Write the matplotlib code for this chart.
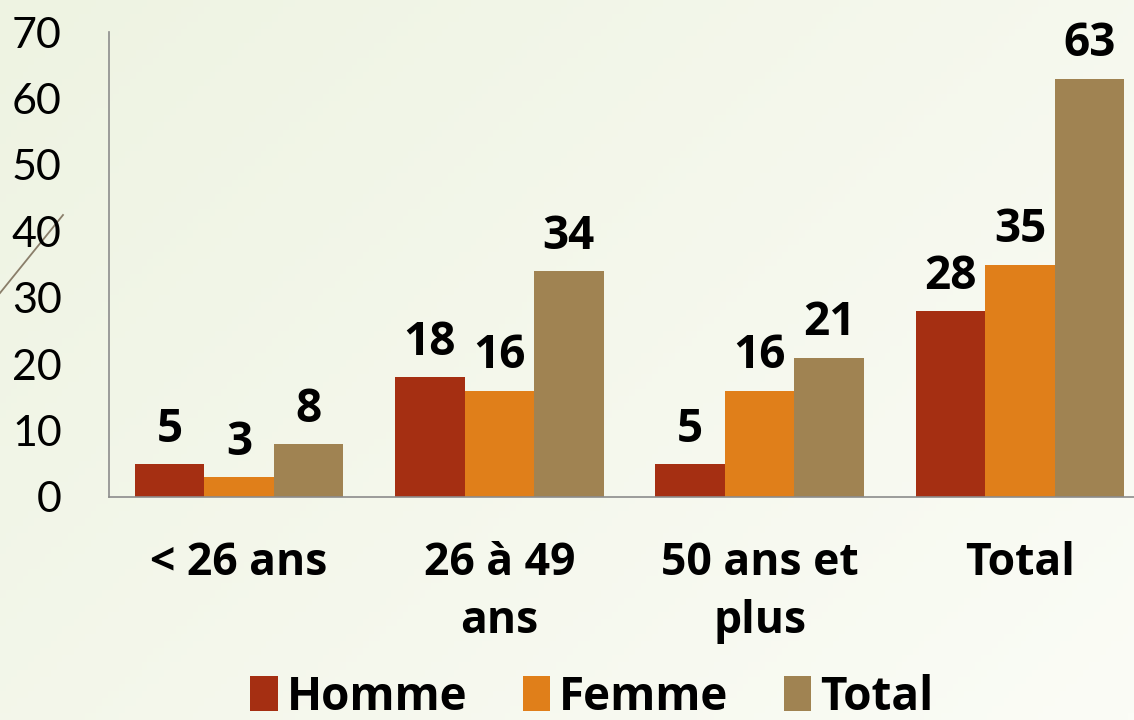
import numpy as np
import matplotlib
matplotlib.use('Agg')
import matplotlib.pyplot as plt
from matplotlib.lines import Line2D

categories = ["< 26 ans", "26 à 49\nans", "50 ans et\nplus", "Total"]
homme = [5, 18, 5, 28]
femme = [3, 16, 16, 35]
total = [8, 34, 21, 63]
series_names = ["Homme", "Femme", "Total"]
colors = ["#A52F12", "#E07F1A", "#A08352"]
yticks = [0, 10, 20, 30, 40, 50, 60, 70]

plt.rcParams['font.family'] = ['Open Sans', 'DejaVu Sans']

fig = plt.figure(figsize=(11.34, 7.2), dpi=100)

# background gradient (greenish left -> almost white right)
bg = fig.add_axes([0, 0, 1, 1], zorder=-10)
gx = np.linspace(0, 1, 200)
gy = np.linspace(0, 1, 100)
X, Y = np.meshgrid(gx, gy)
t = np.clip(0.6 * X + 0.4 * (1 - Y), 0, 1)
c0 = np.array([238, 243, 226]) / 255
c1 = np.array([251, 252, 246]) / 255
img = c0[None, None, :] * (1 - t[..., None]) + c1[None, None, :] * t[..., None]
bg.imshow(img, aspect='auto', extent=[0, 1, 0, 1], origin='lower')
bg.set_axis_off()
# decorative diagonal line
bg.add_line(Line2D([0, 63 / 1134], [1 - 293 / 720, 1 - 215 / 720], color='#8A7E6A', lw=1.3))

# axes: x from 109 to 1150 px, y from 32 to 497 px
left = 109 / 1134
right = 1150 / 1134
bottom = 1 - 497 / 720
top = 1 - 32 / 720
ax = fig.add_axes([left, bottom, right - left, top - bottom])
ax.patch.set_alpha(0)

x = np.arange(len(categories))
w = 0.267
for i, (vals, name, col) in enumerate(zip([homme, femme, total], series_names, colors)):
    bars = ax.bar(x + (i - 1) * w, vals, w, color=col, label=name)
    for b, v in zip(bars, vals):
        ax.annotate(str(v), (b.get_x() + b.get_width() / 2, v), xytext=(0, 16),
                    textcoords='offset points', ha='center', va='baseline',
                    fontsize=33, fontweight='bold', color='black')

ax.set_xlim(-0.5, 3.5)
ax.set_ylim(0, 70)
ax.set_yticks(yticks)
ax.set_yticklabels([str(v) for v in yticks], fontsize=31, family=['Lato', 'DejaVu Sans'])
ax.tick_params(axis='y', length=0, pad=34, colors='black')
ax.set_xticks(x)
ax.set_xticklabels(categories, fontsize=32, fontweight='bold', linespacing=1.37)
ax.tick_params(axis='x', length=0, pad=32)
for s in ['top', 'right']:
    ax.spines[s].set_visible(False)
ax.spines['left'].set_color('#8C8C8C')
ax.spines['bottom'].set_color('#8C8C8C')
ax.spines['left'].set_linewidth(1.2)
ax.spines['bottom'].set_linewidth(1.2)

leg = fig.legend(loc='center', bbox_to_anchor=(592 / 1134, 1 - 697 / 720), ncol=3,
                 frameon=False, handlelength=0.6, handleheight=0.8,
                 handletextpad=0.2, columnspacing=1.2, prop={'weight': 'bold', 'size': 33})

fig.savefig('out.png', dpi=100)
